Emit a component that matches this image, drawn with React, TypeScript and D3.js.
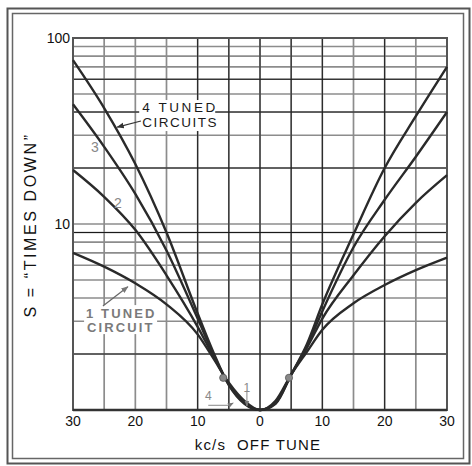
import React from 'react';
import * as d3 from 'd3';

// kc/s off tune (x) and S = "times down" for each number of tuned circuits
const offTune = [-30, -25, -20, -15, -10, -7.5, -5, -2.5, 0, 2.5, 5, 7.5, 10, 15, 20, 25, 30];
const oneTuned = [7.0, 5.9, 4.8, 3.7, 2.55, 1.9, 1.4, 1.12, 1.0, 1.12, 1.55, 2.05, 2.7, 3.75, 4.7, 5.65, 6.6];
const twoTuned = [19.5, 14, 9.3, 5.3, 2.8, 1.95, 1.38, 1.1, 1.0, 1.1, 1.55, 2.15, 3.1, 5.3, 8.6, 13, 18.3];
const threeTuned = [44, 26, 14.5, 7.2, 3.1, 2.0, 1.37, 1.09, 1.0, 1.09, 1.55, 2.2, 3.4, 7.5, 13.5, 23, 40];
const fourTuned = [76, 42, 21, 9, 3.3, 2.05, 1.36, 1.08, 1.0, 1.08, 1.55, 2.25, 3.7, 8.8, 20, 38, 70];

const xTicks = [-30, -20, -10, 0, 10, 20, 30];
const yTicks = [10, 100];
const gridKc = [-25, -20, -15, -10, -5, 0, 5, 10, 15, 20, 25];
const darkKc = [-10, -5, 0, 5, 10, 20];
const gridS = [2, 3, 4, 5, 6, 7, 8, 9, 10, 20, 30, 40, 50, 60, 70, 80, 90];
const darkS = [2, 9, 20, 40, 60];

const markerKc = [-5.9, 4.65];
const markerS = [1.49, 1.49];

const W = 472;
const H = 466;
const FONT = '"Liberation Sans", Arial, Helvetica, sans-serif';

export default function App() {
  const x = d3.scaleLinear().domain([-30, 30]).range([73, 447]);
  const y = d3.scaleLog().domain([1, 100]).range([410, 38]);

  const series = [oneTuned, twoTuned, threeTuned, fourTuned];
  const line = d3
    .line<[number, number]>()
    .x((d) => x(d[0]))
    .y((d) => y(d[1]))
    .curve(d3.curveMonotoneX);

  const [x0, x1] = x.range();
  const [y0, y1] = y.range();

  // annotation anchors in data space
  const lab4 = { x: x(-18.9), y: y(39.5) };
  const arr4From = { x: x(-19.1), y: y(35.8) };
  const arr4To = { x: x(-22.9), y: y(33.2) };
  const lab1 = { x: x(-27.9), y: y(3.12) };
  const arr1From = { x: x(-25.2), y: y(3.62) };
  const arr1To = { x: x(-21.2), y: y(4.6) };

  return (
    <svg
      width={W}
      height={H}
      style={{ position: 'absolute', left: 0, top: 0, background: '#fff' }}
      fontFamily={FONT}
    >
      <defs>
        <marker id="ah" viewBox="0 0 10 10" refX="9" refY="5" markerWidth="6" markerHeight="6" orient="auto-start-reverse">
          <path d="M0,1 L10,5 L0,9 z" fill="#333" />
        </marker>
        <marker id="ahg" viewBox="0 0 10 10" refX="9" refY="5" markerWidth="6" markerHeight="6" orient="auto-start-reverse">
          <path d="M0,1 L10,5 L0,9 z" fill="#777" />
        </marker>
      </defs>
      <rect x={0} y={0} width={W} height={H} fill="#fff" />
      {/* double frame */}
      <rect x={7.5} y={8.5} width={462} height={455} fill="none" stroke="#555" strokeWidth={2} />
      <rect x={12.5} y={13.5} width={451} height={445} fill="none" stroke="#666" strokeWidth={1.5} />

      {/* grid */}
      {gridS.map((s) => (
        <line key={'hs' + s} x1={x0} x2={x1} y1={y(s)} y2={y(s)} stroke="#8c8c8c" strokeWidth={1.7} />
      ))}
      {gridKc.map((k) => (
        <line key={'vk' + k} x1={x(k)} x2={x(k)} y1={y0} y2={y1} stroke="#8c8c8c" strokeWidth={1.7} />
      ))}
      {darkS.map((s) => (
        <line key={'hd' + s} x1={x0} x2={x1} y1={y(s)} y2={y(s)} stroke="#1a1a1a" strokeWidth={1} />
      ))}
      {darkKc.map((k) => (
        <line key={'vd' + k} x1={x(k)} x2={x(k)} y1={y0} y2={y1} stroke="#1a1a1a" strokeWidth={1} />
      ))}

      {/* plot border */}
      <rect x={x0} y={y1} width={x1 - x0} height={y0 - y1} fill="none" stroke="#555" strokeWidth={2} />
      <line x1={x0} x2={x1} y1={y0} y2={y0} stroke="#333" strokeWidth={2.5} />

      {/* label backgrounds */}
      <rect x={lab4.x - 3} y={lab4.y - 13} width={76} height={31} fill="#fff" />
      <rect x={lab1.x - 2} y={lab1.y - 13} width={73} height={29} fill="#fff" />

      {/* curves */}
      {series.map((vals, i) => (
        <path
          key={'c' + i}
          d={line(offTune.map((k, j) => [k, vals[j]] as [number, number])) || ''}
          fill="none"
          stroke="#2a2a2a"
          strokeWidth={2.4}
        />
      ))}

      {/* markers */}
      {markerKc.map((k, i) => (
        <circle key={'m' + i} cx={x(k)} cy={y(markerS[i])} r={3.6} fill="#888" stroke="#555" strokeWidth={0.8} />
      ))}

      {/* axis tick labels */}
      {xTicks.map((k) => (
        <text key={'xt' + k} x={x(k)} y={426} textAnchor="middle" fontSize={14} fill="#111">
          {Math.abs(k)}
        </text>
      ))}
      {yTicks.map((s) => (
        <text key={'yt' + s} x={70} y={y(s) + 5} textAnchor="end" fontSize={14} fill="#111">
          {s}
        </text>
      ))}

      {/* axis titles */}
      <text x={258} y={450} textAnchor="middle" fontSize={15} fill="#111" letterSpacing={1.2}>
        kc/s{'\u00a0\u00a0'}OFF TUNE
      </text>
      <text
        transform={`translate(36,${225}) rotate(-90)`}
        textAnchor="middle"
        fontSize={16}
        fill="#111"
        letterSpacing={2.6}
      >
        S = {'\u201C'}TIMES DOWN{'\u201D'}
      </text>

      {/* 4 tuned circuits label */}
      <text x={lab4.x} y={lab4.y - 1} fontSize={13.5} fill="#1a1a1a" letterSpacing={2.6}>
        4 TUNED
      </text>
      <text x={lab4.x} y={lab4.y + 14} fontSize={13.5} fill="#1a1a1a" letterSpacing={1.5}>
        CIRCUITS
      </text>
      <line x1={arr4From.x} y1={arr4From.y} x2={arr4To.x} y2={arr4To.y} stroke="#333" strokeWidth={1.2} markerEnd="url(#ah)" />

      {/* curve numbers */}
      <text x={x(-26.5)} y={y(25.9) + 5} textAnchor="middle" fontSize={14} fill="#888">3</text>
      <text x={x(-22.8)} y={y(13.0) + 5} textAnchor="middle" fontSize={14} fill="#888">2</text>

      {/* 1 tuned circuit label */}
      <text x={lab1.x} y={lab1.y} fontSize={13} fill="#7a7a7a" fontWeight="bold" letterSpacing={2.1}>
        1 TUNED
      </text>
      <text x={lab1.x + 1} y={lab1.y + 14} fontSize={13} fill="#7a7a7a" fontWeight="bold" letterSpacing={2.1}>
        CIRCUIT
      </text>
      <line x1={arr1From.x} y1={arr1From.y} x2={arr1To.x} y2={arr1To.y} stroke="#666" strokeWidth={1.2} markerEnd="url(#ahg)" />

      {/* bottom small labels */}
      <text x={x(-8.3)} y={y(1.2) + 5} textAnchor="middle" fontSize={12} fill="#888">4</text>
      <path
        d={`M${x(-8.3)},${y(1.06)} L${x(-5)},${y(1.06)} L${x(-4.3)},${y(1.09)}`}
        fill="none"
        stroke="#888"
        strokeWidth={1}
        markerEnd="url(#ahg)"
      />
      <text x={x(-2.1)} y={y(1.33) + 5} textAnchor="middle" fontSize={12} fill="#888">1</text>
      <line x1={x(-2.1)} y1={y(1.27)} x2={x(-2.1)} y2={y(1.05)} stroke="#888" strokeWidth={1} markerEnd="url(#ahg)" />
    </svg>
  );
}
